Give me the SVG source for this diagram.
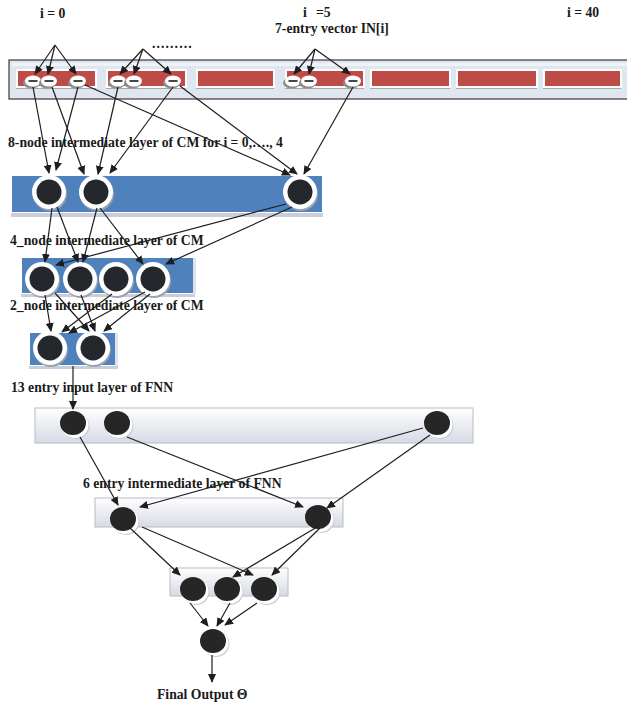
<svg xmlns="http://www.w3.org/2000/svg" width="627" height="707" viewBox="0 0 627 707">
<style>
text{font-family:"Liberation Serif","Times New Roman",serif;font-weight:bold;font-size:13.7px;fill:#1a1a1a}
.c line{stroke:#1e1e1e;stroke-width:1.2;marker-end:url(#ah)}
.red{fill:#bd4b48;stroke:#fff;stroke-width:2}
.blue{fill:#4f81bd}
.fnn{fill:url(#fg);stroke:#b8bcc6;stroke-width:1}
</style>
<defs>
<marker id="ah" markerWidth="9" markerHeight="8" refX="8" refY="4" orient="auto" markerUnits="userSpaceOnUse">
<path d="M0,0 L9,4 L0,8 Z" fill="#1e1e1e"/>
</marker>
<linearGradient id="fg" x1="0" y1="0" x2="0" y2="1">
<stop offset="0" stop-color="#ffffff"/>
<stop offset="1" stop-color="#d6dae4"/>
</linearGradient>
<g id="ov">
<ellipse cx="-1.5" cy="2" rx="8.5" ry="5.5" fill="#8f8f8f"/>
<ellipse cx="0" cy="0" rx="8" ry="5.5" fill="#fff"/>
<line x1="-4.5" y1="0" x2="4.5" y2="0" stroke="#333" stroke-width="1.8"/>
</g>
<g id="bn">
<circle cx="1" cy="2" r="17" fill="#9aa3b0"/>
<circle cx="0" cy="0" r="17" fill="#fff"/>
<circle cx="0" cy="0" r="12.5" fill="#24272b"/>
</g>
<g id="fn">
<ellipse cx="3" cy="3" rx="13.5" ry="13" fill="#c8ccd4"/>
<ellipse cx="2" cy="2" rx="13.5" ry="13" fill="#fff"/>
<ellipse cx="0" cy="0" rx="13" ry="12" fill="#262626"/>
</g>
</defs>
<rect width="627" height="707" fill="#fff"/>

<g id="labels">
<text x="40" y="18">i = 0</text>
<text x="303" y="17">i</text><text x="316" y="17">=5</text>
<text x="275" y="33">7-entry vector IN[i]</text>
<text x="567" y="17">i = 40</text>
<text x="152" y="48" letter-spacing="1.1">.........</text>
<text x="8" y="147">8-node intermediate layer of CM for i = 0,…., 4</text>
<text x="10" y="245">4_node intermediate layer of CM</text>
<text x="10" y="310">2_node intermediate layer of CM</text>
<text x="11" y="392">13 entry input layer of FNN</text>
<text x="83" y="488">6 entry intermediate layer of FNN</text>
<text x="157" y="699">Final Output Θ</text>
</g>

<g id="input-vector">
<rect x="9" y="60" width="625" height="39" fill="#dfe6f0" stroke="#3a3a3a" stroke-width="1.2"/>
<rect x="12" y="63" width="620" height="3" fill="#eef3f8"/>
<g>
<rect x="16" y="72" width="80" height="17" fill="#a9a9a9"/>
<rect x="106" y="72" width="80" height="17" fill="#a9a9a9"/>
<rect x="196" y="72" width="78" height="17" fill="#a9a9a9"/>
<rect x="285" y="72" width="79" height="17" fill="#a9a9a9"/>
<rect x="370" y="72" width="80" height="17" fill="#a9a9a9"/>
<rect x="456" y="72" width="81" height="17" fill="#a9a9a9"/>
<rect x="543" y="72" width="78" height="17" fill="#a9a9a9"/>
</g>
<rect class="red" x="17" y="70" width="79" height="17"/>
<rect class="red" x="107" y="70" width="79" height="17"/>
<rect class="red" x="197" y="70" width="77" height="17"/>
<rect class="red" x="286" y="70" width="78" height="17"/>
<rect class="red" x="371" y="70" width="79" height="17"/>
<rect class="red" x="457" y="70" width="80" height="17"/>
<rect class="red" x="544" y="70" width="77" height="17"/>
</g>
<g id="vector-entries">
<use href="#ov" x="33" y="81"/><use href="#ov" x="49" y="81"/><use href="#ov" x="78" y="81"/>
<use href="#ov" x="118" y="81"/><use href="#ov" x="134" y="81"/><use href="#ov" x="173" y="81"/>
<use href="#ov" x="293" y="81"/><use href="#ov" x="309" y="81"/><use href="#ov" x="353" y="81"/>
</g>

<g id="cm-layer-8">
<rect x="11" y="213" width="312" height="4" fill="#c9ced8"/>
<rect class="blue" x="12" y="176" width="310" height="36"/>
<use href="#bn" x="49" y="192"/><use href="#bn" x="96" y="192"/><use href="#bn" x="300" y="192"/>
</g>
<g id="cm-layer-4">
<rect x="193" y="258" width="3" height="36" fill="#dfe4ec"/>
<rect x="21" y="294" width="174" height="3" fill="#c9ced8"/>
<rect class="blue" x="22" y="258" width="171" height="35"/>
<use href="#bn" x="42" y="279"/><use href="#bn" x="80" y="279"/><use href="#bn" x="116" y="279"/><use href="#bn" x="153" y="279"/>
</g>
<g id="cm-layer-2">
<rect x="115" y="333" width="3" height="34" fill="#dfe4ec"/>
<rect x="29" y="366" width="89" height="3" fill="#c9ced8"/>
<rect class="blue" x="30" y="333" width="85" height="32"/>
<use href="#bn" x="50" y="348"/><use href="#bn" x="93" y="348"/>
</g>
<g id="fnn-input">
<rect class="fnn" x="35" y="408" width="438" height="35"/>
<use href="#fn" x="73" y="423"/><use href="#fn" x="117" y="423"/><use href="#fn" x="437" y="423"/>
</g>
<g id="fnn-intermediate">
<rect class="fnn" x="95" y="498" width="248" height="29"/>
<use href="#fn" x="123" y="519"/><use href="#fn" x="318" y="517"/>
</g>
<g id="fnn-layer-3">
<rect class="fnn" x="170" y="568" width="118" height="28"/>
<use href="#fn" x="193" y="589"/><use href="#fn" x="227" y="589"/><use href="#fn" x="264" y="589"/>
</g>
<g id="fnn-output">
<use href="#fn" x="213" y="641"/>
</g>

<g id="connectors" class="c">
<line x1="55" y1="45" x2="35" y2="74"/>
<line x1="55" y1="45" x2="48" y2="74"/>
<line x1="55" y1="45" x2="76" y2="74"/>
<line x1="143" y1="49" x2="120" y2="74"/>
<line x1="143" y1="49" x2="134" y2="74"/>
<line x1="143" y1="49" x2="171" y2="74"/>
<line x1="315" y1="49" x2="294" y2="74"/>
<line x1="315" y1="49" x2="309" y2="74"/>
<line x1="315" y1="49" x2="350" y2="74"/>

<line x1="33" y1="87" x2="49" y2="173"/>
<line x1="78" y1="87" x2="56" y2="170"/>
<line x1="52" y1="87" x2="84" y2="174"/>
<line x1="118" y1="87" x2="98" y2="174"/>
<line x1="173" y1="87" x2="110" y2="173"/>
<line x1="85" y1="85" x2="290" y2="175"/>
<line x1="180" y1="86" x2="297" y2="174"/>
<line x1="353" y1="87" x2="304" y2="174"/>

<line x1="52" y1="208" x2="45" y2="262"/>
<line x1="57" y1="207" x2="78" y2="262"/>
<line x1="97" y1="208" x2="83" y2="262"/>
<line x1="100" y1="208" x2="143" y2="264"/>
<line x1="286" y1="204" x2="56" y2="265"/>
<line x1="292" y1="207" x2="166" y2="264"/>

<line x1="45" y1="295" x2="51" y2="331"/>
<line x1="55" y1="293" x2="89" y2="331"/>
<line x1="81" y1="295" x2="95" y2="331"/>
<line x1="112" y1="294" x2="62" y2="332"/>
<line x1="145" y1="292" x2="69" y2="333"/>
<line x1="150" y1="294" x2="104" y2="331"/>

<line x1="73" y1="366" x2="73" y2="409"/>

<line x1="80" y1="437" x2="118" y2="505"/>
<line x1="127" y1="437" x2="303" y2="507"/>
<line x1="423" y1="428" x2="140" y2="507"/>
<line x1="430" y1="435" x2="327" y2="508"/>

<line x1="130" y1="528" x2="180" y2="575"/>
<line x1="142" y1="527" x2="253" y2="575"/>
<line x1="317" y1="527" x2="233" y2="577"/>
<line x1="320" y1="528" x2="272" y2="575"/>

<line x1="190" y1="603" x2="208" y2="626"/>
<line x1="230" y1="603" x2="217" y2="626"/>
<line x1="257" y1="603" x2="225" y2="625"/>

<line x1="212" y1="655" x2="212" y2="682"/>
</g>
</svg>
